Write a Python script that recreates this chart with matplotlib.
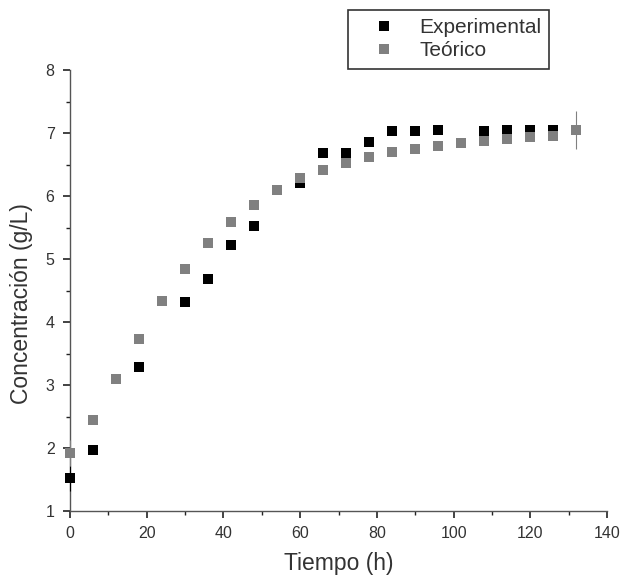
import numpy as np
import matplotlib.pyplot as plt
from matplotlib.ticker import MultipleLocator

plt.rcParams['font.family'] = ['Liberation Sans', 'DejaVu Sans']

# Experimental data
t_exp = [0, 6, 18, 30, 36, 42, 48, 60, 66, 72, 78, 84, 90, 96, 108, 114, 120, 126, 132]
c_exp = [1.52, 1.97, 3.28, 4.32, 4.68, 5.22, 5.52, 6.21, 6.69, 6.69, 6.86, 7.04, 7.03,
         7.05, 7.03, 7.05, 7.05, 7.05, 7.05]
err_exp = [0.2, 0, 0, 0, 0, 0, 0, 0, 0, 0, 0, 0, 0, 0, 0, 0, 0, 0, 0]

# Theoretical model
t_teo = [0, 6, 12, 18, 24, 30, 36, 42, 48, 54, 60, 66, 72, 78, 84, 90, 96, 102, 108,
         114, 120, 126, 132]
c_teo = [1.92, 2.45, 3.10, 3.73, 4.33, 4.84, 5.25, 5.59, 5.86, 6.10, 6.28, 6.42, 6.52,
         6.62, 6.70, 6.75, 6.79, 6.84, 6.87, 6.91, 6.93, 6.95, 7.05]
err_teo = [0.2, 0, 0, 0, 0, 0, 0, 0, 0, 0, 0, 0, 0, 0, 0, 0, 0, 0, 0, 0, 0, 0, 0.3]

fig = plt.figure(figsize=(6.24, 5.84), dpi=100)
ax = fig.add_axes([0.112, 0.125, 0.861, 0.755])

ax.errorbar(t_exp, c_exp, yerr=err_exp, fmt='s', color='black', ms=7, mew=0,
            elinewidth=0.8, capsize=2, label='Experimental', zorder=3, clip_on=False)
ax.errorbar(t_teo, c_teo, yerr=err_teo, fmt='s', color='#808080', ms=7, mew=0,
            elinewidth=0.8, capsize=2, label='Teórico', zorder=4, clip_on=False)

ax.set_xlim(0, 140)
ax.set_ylim(1, 8)
ax.xaxis.set_major_locator(MultipleLocator(20))
ax.xaxis.set_minor_locator(MultipleLocator(10))
ax.yaxis.set_major_locator(MultipleLocator(1))
ax.yaxis.set_minor_locator(MultipleLocator(0.5))
ax.spines['top'].set_visible(False)
ax.spines['right'].set_visible(False)
for s in ['left', 'bottom']:
    ax.spines[s].set_color('#555555')
    ax.spines[s].set_linewidth(1.0)
ax.tick_params(which='major', length=5, width=1.2, labelsize=11.5, color='#222222',
               labelcolor='#333333', pad=6)
ax.tick_params(which='minor', length=3, width=1.0, color='#222222')

ax.set_xlabel('Tiempo (h)', fontsize=16.5, color='#333333', labelpad=8)
ax.set_ylabel('Concentración (g/L)', fontsize=16.5, color='#333333')
ax.yaxis.set_label_coords(-0.068, 0.47)

handles, labels = ax.get_legend_handles_labels()
handles = [h[0] for h in handles]
leg = fig.legend(handles, labels, loc='upper left', bbox_to_anchor=(0.558, 0.983),
                 fontsize=15, frameon=True, fancybox=False, shadow=False,
                 borderaxespad=0, handletextpad=0.4, borderpad=0.4,
                 labelspacing=0.2, handlelength=2.6)
leg.get_frame().set_edgecolor('black')
leg.get_frame().set_linewidth(1.2)
for t in leg.get_texts():
    t.set_color('#333333')

fig.savefig('out.png', dpi=100)
